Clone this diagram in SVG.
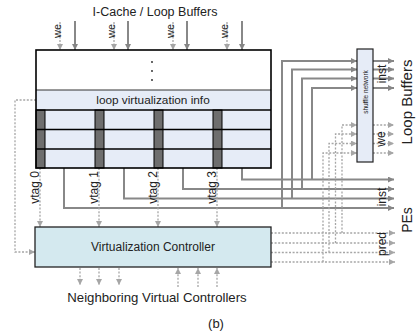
<svg xmlns="http://www.w3.org/2000/svg" width="416" height="335" viewBox="0 0 416 335">
<defs>
<marker id="as" viewBox="0 0 6 6" refX="6" refY="3" markerWidth="6" markerHeight="6" orient="auto" markerUnits="userSpaceOnUse"><path d="M0,0 L6,3 L0,6z" fill="#868686"/></marker>
<marker id="ad" viewBox="0 0 6 6" refX="6" refY="3" markerWidth="6" markerHeight="6" orient="auto" markerUnits="userSpaceOnUse"><path d="M0,0 L6,3 L0,6z" fill="#a6a6a6"/></marker>
</defs>
<style>
text{font-family:"Liberation Sans",Arial,sans-serif;fill:#222}
.s{fill:none;stroke:#888;stroke-width:2;marker-end:url(#as)}
.sn{fill:none;stroke:#888;stroke-width:2}
.d{fill:none;stroke:#a6a6a6;stroke-width:1.3;stroke-dasharray:2,1.6;marker-end:url(#ad)}
.dn{fill:none;stroke:#a6a6a6;stroke-width:1.3;stroke-dasharray:2,1.6}
.cell{fill:#e6ecf7}
.bar{fill:#6e6e6e;stroke:#000;stroke-width:1}
.lbl{font-size:11px}
</style>
<rect width="416" height="335" fill="#fff"/>
<text x="155" y="16" font-size="12.5" text-anchor="middle">I-Cache / Loop Buffers</text>

<g id="connectors">
<!-- top inputs -->
<path class="d" d="M60,22 V50"/>
<path class="s" d="M75,21 V50"/>
<path class="d" d="M114,22 V50"/>
<path class="s" d="M128,21 V50"/>
<path class="d" d="M173,22 V50"/>
<path class="s" d="M187,21 V50"/>
<path class="d" d="M227,22 V50"/>
<path class="s" d="M242,21 V50"/>
<!-- inst outputs to PEs -->
<path class="s" d="M64,168 V208 H394"/>
<path class="s" d="M124,168 V198.5 H394"/>
<path class="s" d="M183,168 V189 H394"/>
<path class="s" d="M242,168 V179.5 H394"/>
<!-- branches to shuffle network -->
<path class="s" d="M282,208 V61 H357"/>
<path class="s" d="M292,198.5 V69.5 H357"/>
<path class="s" d="M302,189 V78.5 H357"/>
<path class="s" d="M312,179.5 V88 H357"/>
<!-- shuffle outputs -->
<path class="s" d="M373,61 H394"/>
<path class="s" d="M373,69.5 H394"/>
<path class="s" d="M373,78.5 H394"/>
<path class="s" d="M373,88 H394"/>
<!-- pred outputs -->
<path class="d" d="M271,233 H395"/>
<path class="d" d="M271,243 H395"/>
<path class="d" d="M271,252.5 H395"/>
<path class="d" d="M271,262 H395"/>
<!-- pred branches to shuffle (we) -->
<path class="d" d="M342,233 V125 H357"/>
<path class="d" d="M335.5,243 V134 H357"/>
<path class="d" d="M329,252.5 V143.5 H357"/>
<path class="d" d="M323,262 V153 H357"/>
<!-- we outputs -->
<path class="d" d="M373,125 H394"/>
<path class="d" d="M373,134 H394"/>
<path class="d" d="M373,143.5 H394"/>
<path class="d" d="M373,153 H394"/>
<!-- vtags -->
<path class="d" d="M40,168 V227"/>
<path class="d" d="M99,168 V227"/>
<path class="d" d="M158,168 V227"/>
<path class="d" d="M217,168 V227"/>
<!-- loop info feedback -->
<path class="d" d="M36,100 H15 V252 H35"/>
<!-- neighbors -->
<path class="d" d="M80,268 V285"/>
<path class="d" d="M99,268 V285"/>
<path class="d" d="M119,268 V285"/>
<path class="d" d="M178,287 V268"/>
<path class="d" d="M198,287 V268"/>
<path class="d" d="M217,287 V268"/>
</g>

<g id="loop-buffer-array">
<rect x="36" y="50" width="235" height="118" fill="#fff"/>
<rect class="cell" x="36" y="90" width="235" height="78"/>
<g fill="#222">
<circle cx="152" cy="62" r="0.9"/><circle cx="152" cy="71" r="0.9"/><circle cx="152" cy="80" r="0.9"/>
</g>
<line x1="36" y1="90" x2="271" y2="90" stroke="#333" stroke-width="1"/>
<text x="153" y="104" font-size="11.8" text-anchor="middle">loop virtualization info</text>
<rect class="bar" x="36" y="110" width="9" height="58"/>
<rect class="bar" x="95" y="110" width="9" height="58"/>
<rect class="bar" x="154" y="110" width="9" height="58"/>
<rect class="bar" x="213" y="110" width="9" height="58"/>
<g stroke="#000" stroke-width="1.6">
<line x1="36" y1="110" x2="271" y2="110"/>
<line x1="36" y1="129.5" x2="271" y2="129.5"/>
<line x1="36" y1="149" x2="271" y2="149"/>
</g>
<rect x="36" y="50" width="235" height="118" fill="none" stroke="#000" stroke-width="1.6"/>
</g>

<g id="labels">
<g class="lbl">
<text transform="translate(61,31) rotate(-90)" text-anchor="middle">we</text>
<text transform="translate(115,31) rotate(-90)" text-anchor="middle">we</text>
<text transform="translate(174,31) rotate(-90)" text-anchor="middle">we</text>
<text transform="translate(228,31) rotate(-90)" text-anchor="middle">we</text>
<text transform="translate(38.5,187.5) rotate(-90)" text-anchor="middle" font-size="12">vtag 0</text>
<text transform="translate(97.5,187.5) rotate(-90)" text-anchor="middle" font-size="12">vtag 1</text>
<text transform="translate(156.5,187.5) rotate(-90)" text-anchor="middle" font-size="12">vtag 2</text>
<text transform="translate(215.5,187.5) rotate(-90)" text-anchor="middle" font-size="12">vtag 3</text>
<text transform="translate(386,74) rotate(-90)" text-anchor="middle" font-size="12">inst</text>
<text transform="translate(385,139) rotate(-90)" text-anchor="middle" font-size="12">we</text>
<text transform="translate(386,197) rotate(-90)" text-anchor="middle" font-size="12">inst</text>
<text transform="translate(386,244) rotate(-90)" text-anchor="middle" font-size="12">pred</text>
</g>
<text transform="translate(412,102) rotate(-90)" text-anchor="middle" font-size="15">Loop Buffers</text>
<text transform="translate(412,220) rotate(-90)" text-anchor="middle" font-size="14">PEs</text>
</g>

<g id="shuffle-network">
<rect x="357" y="49" width="16" height="113" fill="#e6ecf7" stroke="#222" stroke-width="1.2"/>
<text transform="translate(367.5,92) rotate(-90)" text-anchor="middle" font-size="6.5">shuffle network</text>
</g>

<g id="virtualization-controller">
<rect x="35" y="227" width="236" height="40" fill="#d4e9ef" stroke="#222" stroke-width="1.3"/>
<text x="153" y="251" font-size="12" text-anchor="middle">Virtualization Controller</text>
</g>

<text x="157" y="302" font-size="13.2" text-anchor="middle">Neighboring Virtual Controllers</text>
<text x="216" y="328" font-size="13" text-anchor="middle">(b)</text>
</svg>
